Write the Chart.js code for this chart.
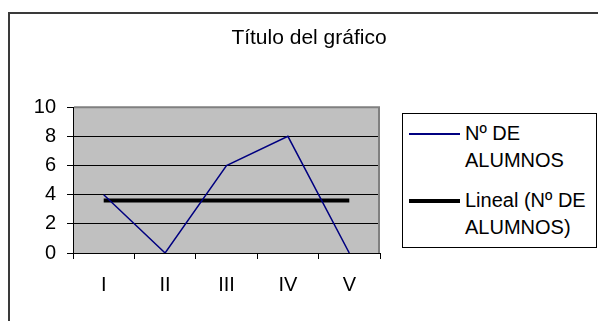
<!DOCTYPE html>
<html>
<head>
<meta charset="utf-8">
<script src="https://cdn.jsdelivr.net/npm/chart.js@4.4.0/dist/chart.umd.min.js"></script>
<style>
  html, body { margin: 0; padding: 0; background: #fff; overflow: hidden; width: 598px; height: 321px; }
  #frame { position: absolute; left: 8px; top: 12px; width: 700px; height: 400px; border: 2px solid #3a3a3a; }
  #wrap { position: absolute; left: 0; top: 0; width: 618px; height: 321px; }
  #legend {
    position: absolute; left: 402px; top: 113px; width: 193px; height: 127px;
    border: 1px solid #000; background: #fff; box-sizing: content-box;
    font-family: "Liberation Sans", Arial, sans-serif; font-size: 20px; line-height: 27px; color: #000;
    padding-top: 6px;
  }
  .row { display: flex; align-items: flex-start; }
  .row + .row { margin-top: 13px; }
  .swatch { width: 51px; margin-left: 6px; margin-right: 5px; flex: none; }
  .swatch i { display: block; }
  .txt { width: 128px; }
</style>
</head>
<body>
<div id="frame"></div>
<div id="wrap"><canvas id="chart" width="618" height="321"></canvas></div>
<div id="legend"></div>
<script>
// categorías y valores de la serie
const categorias = ["I", "II", "III", "IV", "V"];
const alumnos = [4, 0, 6, 8, 0];
const ticksY = [0, 2, 4, 6, 8, 10];
const nombreSerie = "Nº DE ALUMNOS";
const nombreTendencia = "Lineal (Nº DE ALUMNOS)";

// línea de tendencia lineal (mínimos cuadrados)
function tendenciaLineal(ys) {
  const n = ys.length;
  const xs = ys.map((_, i) => i + 1);
  const mx = xs.reduce((a, b) => a + b, 0) / n;
  const my = ys.reduce((a, b) => a + b, 0) / n;
  let num = 0, den = 0;
  xs.forEach((x, i) => { num += (x - mx) * (ys[i] - my); den += (x - mx) * (x - mx); });
  const m = num / den;
  const b = my - m * mx;
  return xs.map(x => m * x + b);
}
const tendencia = tendenciaLineal(alumnos);

const fuente = { family: "'Liberation Sans', Arial, sans-serif", size: 20 };

// fondo gris del área de trazado y borde superior/derecho
const fondoArea = {
  id: 'fondoArea',
  beforeDraw(chart) {
    const { ctx, chartArea: a } = chart;
    ctx.save();
    ctx.fillStyle = '#c0c0c0';
    ctx.fillRect(a.left, a.top, a.right - a.left, a.bottom - a.top);
    ctx.restore();
  },
  beforeDatasetsDraw(chart) {
    const { ctx, chartArea: a } = chart;
    ctx.save();
    ctx.strokeStyle = '#808080';
    ctx.lineWidth = 2;
    ctx.beginPath();
    ctx.moveTo(a.left + 1, a.top);
    ctx.lineTo(a.right - 1, a.top);
    ctx.lineTo(a.right - 1, a.bottom);
    ctx.stroke();
    ctx.restore();
  }
};

const ctx = document.getElementById('chart').getContext('2d');
const chart = new Chart(ctx, {
  type: 'line',
  data: {
    labels: categorias,
    datasets: [{
      label: nombreSerie,
      data: alumnos,
      borderColor: '#000080',
      borderWidth: 1.5,
      pointRadius: 0,
      tension: 0,
      fill: false
    }, {
      label: nombreTendencia,
      data: tendencia,
      borderColor: '#000000',
      borderWidth: 4,
      pointRadius: 0,
      tension: 0,
      fill: false
    }]
  },
  options: {
    responsive: false,
    animation: false,
    devicePixelRatio: 1,
    layout: { padding: 0 },
    plugins: {
      legend: { display: false },
      tooltip: { enabled: false },
      title: {
        display: true,
        text: 'Título del gráfico',
        color: '#000',
        font: { ...fuente, size: 21, weight: 'normal' },
        padding: { top: 26, bottom: 56 }
      }
    },
    scales: {
      x: {
        offset: true,
        grid: { offset: true, drawOnChartArea: false, drawTicks: true, tickLength: 6, tickColor: '#000' },
        border: { color: '#000', width: 1 },
        ticks: { color: '#000', font: fuente, padding: 14, maxRotation: 0 },
        afterFit(scale) { scale.height = 68; }
      },
      y: {
        min: 0,
        max: 10,
        afterBuildTicks(scale) { scale.ticks = ticksY.map(v => ({ value: v })); },
        grid: { color: '#000', lineWidth: 1, tickLength: 6, tickColor: '#000' },
        border: { color: '#000', width: 1 },
        ticks: { color: '#000', font: fuente, padding: 11 },
        afterFit(scale) { scale.width = 73; }
      },
      // eje vacío a la derecha: deja sitio a la leyenda
      hueco: {
        position: 'right',
        min: 0,
        max: 1,
        grid: { display: false },
        border: { display: false },
        ticks: { display: false },
        afterFit(scale) { scale.width = 238; }
      }
    }
  },
  plugins: [fondoArea]
});

// leyenda con el texto partido en dos líneas
const leyenda = document.getElementById('legend');
chart.data.datasets.forEach(ds => {
  const row = document.createElement('div');
  row.className = 'row';
  const sw = document.createElement('div');
  sw.className = 'swatch';
  const grosor = ds.borderWidth >= 3 ? 4 : 2;
  sw.style.height = '27px';
  sw.style.position = 'relative';
  const linea = document.createElement('i');
  linea.style.position = 'absolute';
  linea.style.left = '0';
  linea.style.right = '0';
  linea.style.top = (14 - grosor / 2) + 'px';
  linea.style.height = grosor + 'px';
  linea.style.background = ds.borderColor;
  sw.appendChild(linea);
  const txt = document.createElement('div');
  txt.className = 'txt';
  txt.textContent = ds.label;
  row.appendChild(sw);
  row.appendChild(txt);
  leyenda.appendChild(row);
});
</script>
</body>
</html>
